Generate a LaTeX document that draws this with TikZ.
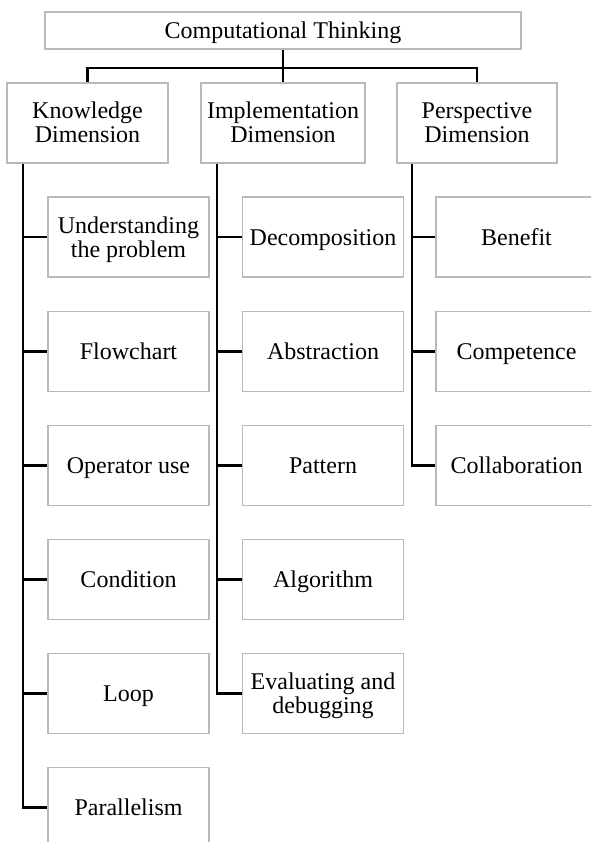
\documentclass[tikz,border=0pt]{standalone}
\usepackage{fontspec}
\setmainfont{Liberation Serif}
\usepackage{tikz}

\tikzset{
	box/.style={rectangle, draw=gray!55, line width=1.8pt, fill=white, minimum width=161pt, minimum height=80pt, inner sep=0pt, align=center, text height=16pt, text depth=0pt, font=\fontsize{24}{24}\selectfont},
	box2/.style={box, text height=40pt},
	conn/.style={-, color=black, line width=2.4pt}
}

\begin{document}
\begin{tikzpicture}[x=1pt, y=-1pt]
		\useasboundingbox (0,0) rectangle (591,842);
		\clip (0,0) rectangle (591,842);

		\node (ct) [box, minimum width=476pt, minimum height=37pt] at (283,30.5) {Computational Thinking};

		\node (K) [box2] at (87.5,123) {Knowledge\\Dimension};
		\node (I) [box2, minimum width=164pt] at (283,123) {Implementation\\Dimension};
		\node (P) [box2, minimum width=160pt] at (477,123) {Perspective\\Dimension};

		\coordinate (bar) at (283,68);
		\draw[conn] (K.north) |- (bar) -| (P.north);
		\draw[conn] (ct.south) -- (I.north);

		% knowledge
		\node (k1) [box2] at (128.5,237) {Understanding\\the problem};
		\node (k2) [box] at (128.5,351.5) {Flowchart};
		\node (k3) [box] at (128.5,465.5) {Operator use};
		\node (k4) [box] at (128.5,579.5) {Condition};
		\node (k5) [box] at (128.5,693.5) {Loop};
		\node (k6) [box] at (128.5,807.5) {Parallelism};

		% implementation
		\node (i1) [box] at (323,237) {Decomposition};
		\node (i2) [box] at (323,351.5) {Abstraction};
		\node (i3) [box] at (323,465.5) {Pattern};
		\node (i4) [box] at (323,579.5) {Algorithm};
		\node (i5) [box2] at (323,693.5) {Evaluating and\\debugging};

		% perspective
		\node (p1) [box] at (516.5,237) {Benefit};
		\node (p2) [box] at (516.5,351.5) {Competence};
		\node (p3) [box] at (516.5,465.5) {Collaboration};

		\draw[conn] ([xshift=17pt]K.south west) |- (k1.west);
		\draw[conn] ([xshift=17pt]K.south west) |- (k2.west);
		\draw[conn] ([xshift=17pt]K.south west) |- (k3.west);
		\draw[conn] ([xshift=17pt]K.south west) |- (k4.west);
		\draw[conn] ([xshift=17pt]K.south west) |- (k5.west);
		\draw[conn] ([xshift=17pt]K.south west) |- (k6.west);

		\draw[conn] ([xshift=17pt]I.south west) |- (i1.west);
		\draw[conn] ([xshift=17pt]I.south west) |- (i2.west);
		\draw[conn] ([xshift=17pt]I.south west) |- (i3.west);
		\draw[conn] ([xshift=17pt]I.south west) |- (i4.west);
		\draw[conn] ([xshift=17pt]I.south west) |- (i5.west);

		\draw[conn] ([xshift=16pt]P.south west) |- (p1.west);
		\draw[conn] ([xshift=16pt]P.south west) |- (p2.west);
		\draw[conn] ([xshift=16pt]P.south west) |- (p3.west);
	\end{tikzpicture}
\end{document}
